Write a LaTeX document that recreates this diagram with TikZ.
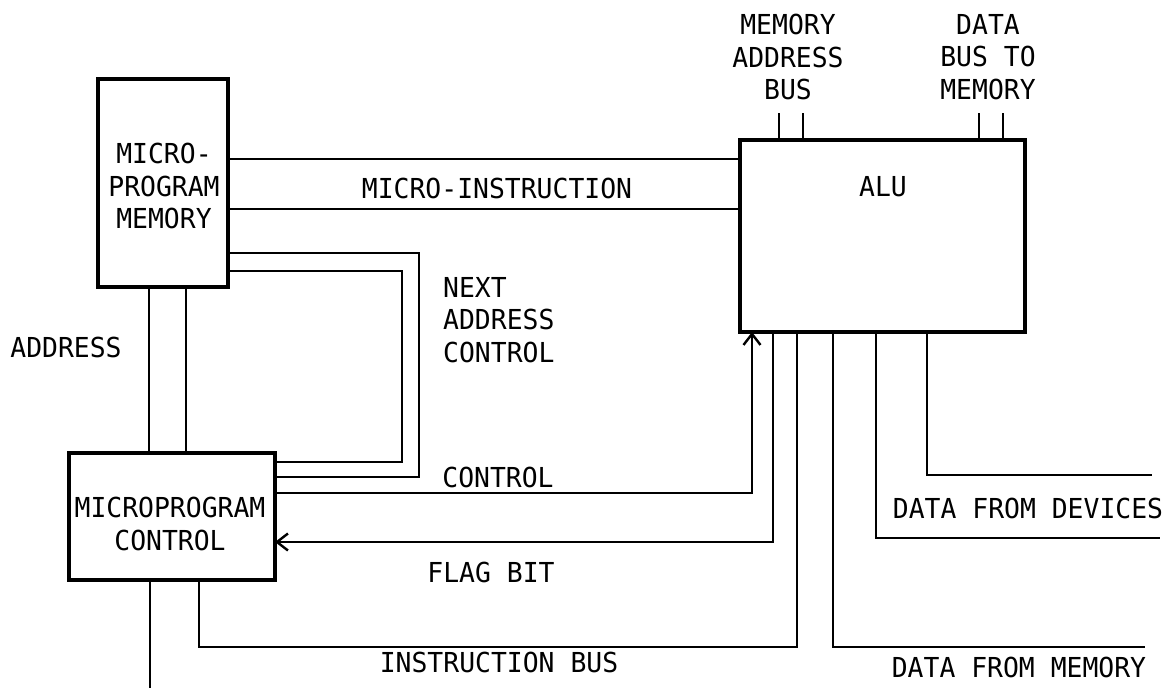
\documentclass[tikz,border=0pt]{standalone}
\usepackage{fontspec}
\setmainfont[FakeStretch=0.96]{DejaVu Sans Mono}
\usetikzlibrary{arrows.meta}
\begin{document}
\begin{tikzpicture}[x=1pt,y=-1pt,
 box/.style={draw,line width=3.2pt,inner sep=0pt,outer sep=0pt},
 wire/.style={line width=2.4pt,line join=miter},
 lbl/.style={inner sep=0pt,align=center,font=\fontsize{27.5}{32.5}\selectfont},
 tip/.style={-{Straight Barb[length=11pt,width=17pt,line width=2.4pt]}}]
\useasboundingbox (0,0) rectangle (1171,688);
\fill[white] (0,0) rectangle (1171,688);
% boxes
\node[box,minimum width=130pt,minimum height=208pt] (mem) at (163,183) {};
\node[box,minimum width=206pt,minimum height=127pt] (ctl) at (172,516.5) {};
\node[box,minimum width=285pt,minimum height=192pt] (alu) at (882.5,236) {};
% box texts
\node[lbl] (memt) at (164,186) {MICRO-\\PROGRAM\\MEMORY};
\node[lbl] (ctlt) at (170,524) {MICROPROGRAM\\CONTROL};
\node[lbl] (alut) at (883,187) {ALU};
% other labels
\node[lbl] (mab) at (788,57) {MEMORY\\ADDRESS\\BUS};
\node[lbl] (dbm) at (988,57) {DATA\\BUS TO\\MEMORY};
\node[lbl] (mi) at (497,188) {MICRO-INSTRUCTION};
\node[lbl,align=left,anchor=west] (nac) at (443,320) {NEXT\\ADDRESS\\CONTROL};
\node[lbl] (addr) at (66,347) {ADDRESS};
\node[lbl] (ctrl) at (498,477) {CONTROL};
\node[lbl] (flag) at (491,572) {FLAG BIT};
\node[lbl] (ib) at (499,662) {INSTRUCTION BUS};
\node[lbl] (dfd) at (1028,508) {DATA FROM DEVICES};
\node[lbl] (dfm) at (1019,667) {DATA FROM MEMORY};
% coordinates
\coordinate (r1) at (0,159);
\coordinate (r2) at (0,209);
\coordinate (lo1) at (419,253);
\coordinate (lo2) at (419,477);
\coordinate (li1) at (402,271);
\coordinate (li2) at (402,462);
\coordinate (ca) at (752,493);
\coordinate (fb) at (773,542);
\coordinate (ib1) at (199,647);
\coordinate (ib2) at (797,647);
\coordinate (a1) at (149,0);
\coordinate (a2) at (186,0);
\coordinate (out) at (150,688);
\coordinate (dm1) at (833,647);
\coordinate (dm2) at (1145,647);
\coordinate (dl1) at (876,538);
\coordinate (dl2) at (1160,538);
\coordinate (du1) at (927,475);
\coordinate (du2) at (1152,475);
\coordinate (t1) at (779,113);
\coordinate (t2) at (803,113);
\coordinate (t3) at (979,113);
\coordinate (t4) at (1003,113);
% micro-instruction bus
\draw[wire] (mem.east |- r1) -- (alu.west |- r1);
\draw[wire] (mem.east |- r2) -- (alu.west |- r2);
% next address control loop
\draw[wire] (mem.east |- lo1) -- (lo1) -- (lo2) -- (ctl.east |- lo2);
\draw[wire] (mem.east |- li1) -- (li1) -- (li2) -- (ctl.east |- li2);
% address
\draw[wire] (mem.south -| a1) -- (ctl.north -| a1);
\draw[wire] (mem.south -| a2) -- (ctl.north -| a2);
\draw[wire] (ctl.south -| out) -- (out);
% control and flag
\draw[wire,tip] (ctl.east |- ca) -- (ca) -- (alu.south -| ca);
\draw[wire,tip] (alu.south -| fb) -- (fb) -- (ctl.east |- fb);
% instruction bus
\draw[wire] (ctl.south -| ib1) -- (ib1) -- (ib2) -- (alu.south -| ib2);
% data lines
\draw[wire] (alu.south -| dm1) -- (dm1) -- (dm2);
\draw[wire] (alu.south -| dl1) -- (dl1) -- (dl2);
\draw[wire] (alu.south -| du1) -- (du1) -- (du2);
% bus ticks
\draw[wire] (t1) -- (alu.north -| t1);
\draw[wire] (t2) -- (alu.north -| t2);
\draw[wire] (t3) -- (alu.north -| t3);
\draw[wire] (t4) -- (alu.north -| t4);
\end{tikzpicture}
\end{document}
